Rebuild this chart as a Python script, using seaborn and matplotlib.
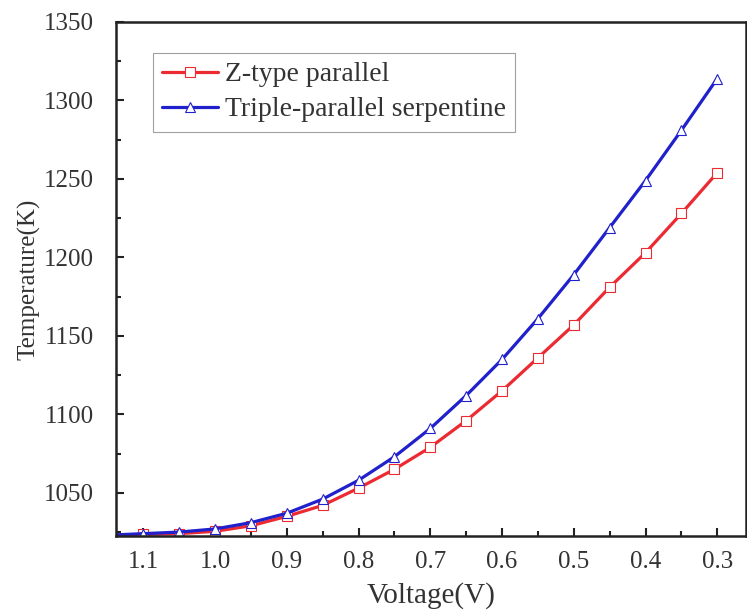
"""
Cell temperature vs. voltage for two flow-field designs.
"""
import pandas as pd
import matplotlib
matplotlib.use("Agg")
import matplotlib.pyplot as plt
from matplotlib.ticker import MultipleLocator, FormatStrFormatter
import seaborn as sns

VOLTAGE = [1.15, 1.10, 1.05, 1.00, 0.95, 0.90, 0.85, 0.80, 0.75,
           0.70, 0.65, 0.60, 0.55, 0.50, 0.45, 0.40, 0.35, 0.30]
Z_TYPE = [1022.8, 1023.5, 1024.0, 1025.5, 1029, 1035, 1042, 1053, 1065,
          1079, 1096, 1115, 1136, 1157, 1181, 1203, 1228, 1254]
TRIPLE = [1023.0, 1024.0, 1025.0, 1027.0, 1031, 1037, 1046, 1058, 1073,
          1091, 1112, 1135, 1161, 1189, 1219, 1249, 1281, 1314]
LABELS = ["Z-type parallel", "Triple-parallel serpentine"]
Y_TICKS = [1050, 1100, 1150, 1200, 1250, 1300, 1350]

RED = "#ec2a32"
BLUE = "#2020cc"


def main():
    sns.set_style("ticks")
    plt.rcParams["font.family"] = ["Liberation Serif", "DejaVu Serif"]

    df = pd.DataFrame({
        "Voltage": VOLTAGE * 2,
        "Temperature": Z_TYPE + TRIPLE,
        "Design": [LABELS[0]] * len(VOLTAGE) + [LABELS[1]] * len(VOLTAGE),
    })

    fig = plt.figure(figsize=(7.47, 6.14), dpi=100)
    ax = fig.add_axes([116 / 747, 1 - 536 / 614, (746 - 116) / 747, (536 - 22) / 614])

    for name, color, marker in zip(LABELS, [RED, BLUE], ["s", "^"]):
        sns.lineplot(data=df[df["Design"] == name], x="Voltage", y="Temperature",
                     ax=ax, color=color, lw=2.3, marker=marker, ms=6.5,
                     mfc="white", mec=color, mew=0.8, label=name)

    ax.set_xlim(1.138, 0.26)
    ax.set_ylim(1022.5, 1350)
    ax.xaxis.set_major_locator(MultipleLocator(0.1))
    ax.xaxis.set_minor_locator(MultipleLocator(0.05))
    ax.set_yticks(Y_TICKS)
    ax.yaxis.set_minor_locator(MultipleLocator(25))
    ax.xaxis.set_major_formatter(FormatStrFormatter("%.1f"))

    ax.tick_params(which="both", direction="in", width=1.5, labelsize=18,
                   top=False, right=False, colors="#222222", labelcolor="#333333")
    ax.tick_params(which="major", length=6)
    ax.tick_params(which="minor", length=3.5)
    ax.tick_params(axis="x", pad=11)
    ax.tick_params(axis="y", pad=16)
    for side in ["left", "bottom", "top", "right"]:
        ax.spines[side].set_linewidth(1.8)
        ax.spines[side].set_color("#222222")

    ax.set_xlabel("Voltage(V)", fontsize=21, color="#333333", labelpad=6)
    ax.set_ylabel("Temperature(K)", fontsize=18, color="#333333", labelpad=2)

    leg = ax.legend(loc="upper left", bbox_to_anchor=(0.059, 0.94), fontsize=20,
                    frameon=True, fancybox=False, edgecolor="#888888",
                    handlelength=2.0, handletextpad=0.25, borderpad=0.33,
                    labelspacing=0.34, borderaxespad=0)
    leg.get_frame().set_linewidth(0.8)
    for t in leg.get_texts():
        t.set_color("#333333")

    fig.savefig("out.png", dpi=100)
    plt.close(fig)


if __name__ == "__main__":
    main()
